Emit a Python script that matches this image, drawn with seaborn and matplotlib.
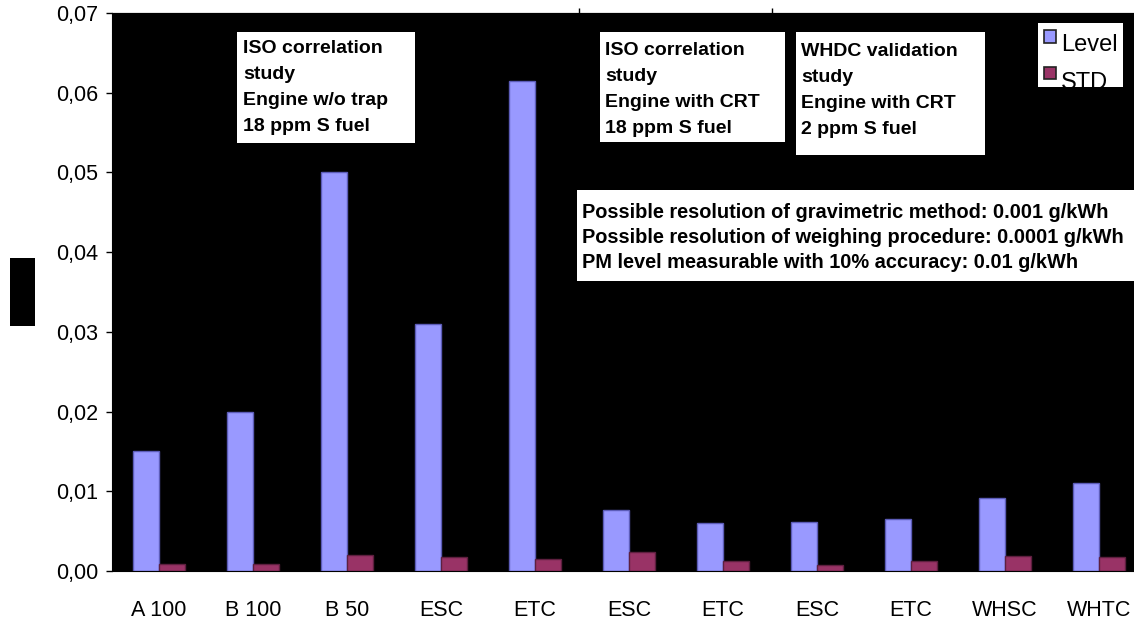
import matplotlib
matplotlib.use("Agg")
import matplotlib.pyplot as plt
from matplotlib.patches import Rectangle
from matplotlib.ticker import FuncFormatter
import numpy as np
import pandas as pd
import seaborn as sns

# Test cycles, in the order they were run
tests = ["A 100", "B 100", "B 50", "ESC", "ETC", "ESC", "ETC", "ESC", "ETC", "WHSC", "WHTC"]
# PM emission level and its standard deviation (g/kWh)
level = [0.0150, 0.0200, 0.0500, 0.0310, 0.0615, 0.0076, 0.0060, 0.0062, 0.0065, 0.0092, 0.0110]
std = [0.0009, 0.0009, 0.0020, 0.0017, 0.0015, 0.0024, 0.0012, 0.0007, 0.0012, 0.0019, 0.0017]
series = ["Level", "STD"]
y_ticks = [0.00, 0.01, 0.02, 0.03, 0.04, 0.05, 0.06, 0.07]

study_notes = [
    "ISO correlation\nstudy\nEngine w/o trap\n18 ppm S fuel",
    "ISO correlation\nstudy\nEngine with CRT\n18 ppm S fuel",
    "WHDC validation\nstudy\nEngine with CRT\n2 ppm S fuel",
]
resolution_note = ("Possible resolution of gravimetric method: 0.001 g/kWh\n"
                   "Possible resolution of weighing procedure: 0.0001 g/kWh\n"
                   "PM level measurable with 10% accuracy: 0.01 g/kWh")

colors = ["#9999FF", "#993366"]
edges = ["#5c5cb8", "#5e1f3f"]

runs = list(range(len(tests)))
df = pd.DataFrame({
    "run": runs * 2,
    "series": [series[0]] * len(runs) + [series[1]] * len(runs),
    "value": level + std,
})

sns.set_style("white")
plt.rcParams["font.family"] = ["Liberation Sans", "DejaVu Sans"]
plt.rcParams.update({"text.color": "black", "xtick.color": "black",
                     "ytick.color": "black", "axes.labelcolor": "black"})

W, H = 1134, 623
fig = plt.figure(figsize=(W / 100, H / 100), dpi=100)
fig.patch.set_facecolor("white")


def fx(px):
    return px / W


def fy(py):
    return 1 - py / H


ax = fig.add_axes([fx(112), fy(571), fx(1146) - fx(112), fy(13) - fy(571)])
ax.set_facecolor("black")

sns.barplot(data=df, x="run", y="value", hue="series", hue_order=series,
            palette=colors, width=0.56, ax=ax, legend=False,
            linewidth=1.0, saturation=1)
for cont, ec in zip(ax.containers, edges):
    for bar in cont:
        bar.set_edgecolor(ec)

ax.set_ylim(0, 0.07)
ax.set_xlim(-0.5, len(tests) - 0.5)
ax.set_yticks(y_ticks)
ax.yaxis.set_major_formatter(FuncFormatter(lambda v, _: f"{v:.2f}".replace(".", ",")))
ax.set_xticks(runs, labels=tests)
ax.tick_params(axis="x", length=0, pad=21, labelsize=15.5)
ax.tick_params(axis="y", left=True, length=4, width=1, color="black", pad=6, labelsize=15.5)
ax.set_xlabel("")
ax.set_ylabel("")
for s in ax.spines.values():
    s.set_color("black")

# Study boundary marks along the top edge
sec = ax.secondary_xaxis("top")
sec.set_xticks([4.47, 6.52], labels=["", ""])
sec.tick_params(length=3.5, width=1, color="black")


def note_box(x0, y0, x1, y1):
    fig.add_artist(Rectangle((fx(x0), fy(y1)), fx(x1) - fx(x0), fy(y0) - fy(y1),
                             transform=fig.transFigure, facecolor="white",
                             edgecolor="none", zorder=5))


boxes = [(237, 32, 415, 143), (600, 32, 785, 142), (796, 32, 985, 155)]
text_pos = [(243, 40), (605, 42), (801, 43)]
for (x0, y0, x1, y1), (tx, ty), note in zip(boxes, text_pos, study_notes):
    note_box(x0, y0, x1, y1)
    fig.text(fx(tx), fy(ty), note, ha="left", va="top", fontsize=14,
             fontweight="bold", linespacing=1.70, zorder=6)

note_box(577, 190, 1140, 281)
fig.text(fx(582), fy(203), resolution_note, ha="left", va="top", fontsize=14.4,
         fontweight="bold", linespacing=1.41, zorder=6)

# Legend panel
leg = Rectangle((fx(1038), fy(87)), fx(1123) - fx(1038), fy(23) - fy(87),
                transform=fig.transFigure, facecolor="white", edgecolor="none", zorder=5)
fig.add_artist(leg)
for (sy0, sy1), c, name, ty in zip([(30, 43), (67, 79)], colors, series, [34, 72]):
    fig.add_artist(Rectangle((fx(1044), fy(sy1)), fx(1056) - fx(1044), fy(sy0) - fy(sy1),
                             transform=fig.transFigure, facecolor=c,
                             edgecolor="#222222", linewidth=1.2, zorder=6))
    t = fig.text(fx(1061), fy(ty), name, ha="left", va="top", fontsize=17, zorder=6)
    t.set_clip_path(leg)

# Axis title block
fig.add_artist(Rectangle((fx(10), fy(326)), fx(35) - fx(10), fy(258) - fy(326),
                         transform=fig.transFigure, facecolor="black",
                         edgecolor="none", zorder=5))

fig.savefig("out.png", dpi=100, facecolor="white")
